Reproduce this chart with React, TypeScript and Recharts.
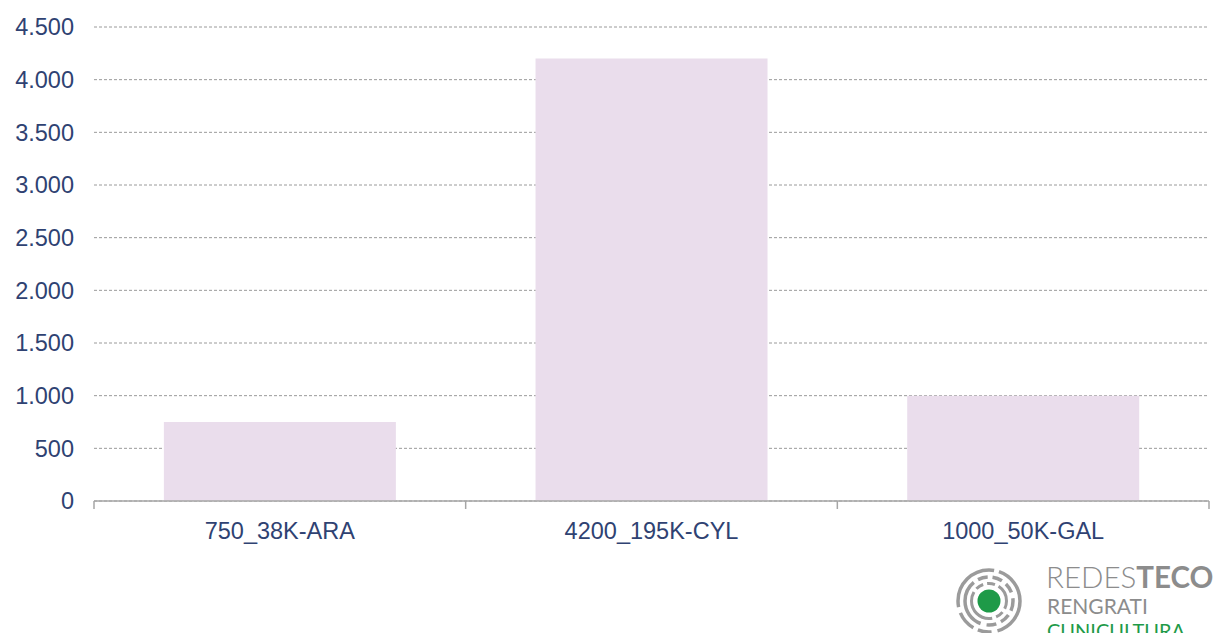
import { BarChart, Bar, XAxis, YAxis, CartesianGrid } from 'recharts';

const CATEGORIES = ['750_38K-ARA', '4200_195K-CYL', '1000_50K-GAL'];
const VALUES = [750, 4200, 1000];
const Y_TICKS = [0, 500, 1000, 1500, 2000, 2500, 3000, 3500, 4000, 4500];

const W = 1216;
const H = 633;
const LEFT = 94;
const RIGHT = 7;
const PLOT_W = W - LEFT - RIGHT;
const INK = '#2F4272';
const AXIS = '#A6A6A6';

const data = CATEGORIES.map((name, i) => ({ name, value: VALUES[i] }));

const fmt = (v: number) => String(v).replace(/\B(?=(\d{3})+(?!\d))/g, '.');

function XTick({ x, y, payload, index }: { x?: number; y?: number; payload?: { value: string }; index?: number }) {
  const bw = PLOT_W / CATEGORIES.length;
  const cx = x ?? 0;
  const cy = y ?? 0;
  const last = index === CATEGORIES.length - 1;
  return (
    <g>
      <line x1={cx - bw / 2} x2={cx - bw / 2} y1={cy} y2={cy + 8} stroke={AXIS} strokeWidth={1.5} />
      {last && <line x1={cx + bw / 2} x2={cx + bw / 2} y1={cy} y2={cy + 8} stroke={AXIS} strokeWidth={1.5} />}
      <text x={cx} y={cy + 21} dy="0.71em" textAnchor="middle" fill={INK} fontSize={23.5}
            fontFamily='"Liberation Sans", Arial, sans-serif'>
        {payload?.value}
      </text>
    </g>
  );
}

function Logo() {
  const cx = 989;
  const cy = 601;
  return (
    <svg width={W} height={H} style={{ position: 'absolute', left: 0, top: 0, pointerEvents: 'none' }}>
      <circle cx={cx} cy={cy} r={31} fill="none" stroke="#9B9B9B" strokeWidth={3.5} strokeDasharray="40 6 14 5 20 6 60 5" />
      <circle cx={cx} cy={cy} r={24} fill="none" stroke="#9B9B9B" strokeWidth={3.5} strokeDasharray="10 5 10 5 10 6 50 5" />
      <circle cx={cx} cy={cy} r={17.5} fill="none" stroke="#9B9B9B" strokeWidth={3} strokeDasharray="8 4 8 4 40 4" />
      <circle cx={cx} cy={cy} r={11.5} fill="#1E9A48" />
      <text x={1046} y={588} fontSize={29.5} fill="#8C8C8C" fontFamily="Lato, sans-serif">
        <tspan fontWeight={300}>REDES</tspan>
        <tspan fontWeight={700}>TECO</tspan>
      </text>
      <text x={1047} y={614} fontSize={21} fill="#8C8C8C" fontFamily="Lato, sans-serif" fontWeight={400}>
        RENGRATI
      </text>
      <text x={1047} y={638} fontSize={20} fill="#1E9A48" fontFamily="Lato, sans-serif" fontWeight={400}>
        CUNICULTURA
      </text>
    </svg>
  );
}

export default function App() {
  return (
    <div style={{ position: 'absolute', left: 0, top: 0, width: W, height: H, background: '#fff', overflow: 'hidden' }}>
      <BarChart width={W} height={H} data={data} margin={{ top: 27, right: RIGHT, left: 0, bottom: 82 }} barCategoryGap="18.8%">
        <CartesianGrid vertical={false} stroke="#9A9A9A" strokeDasharray="3 2" />
        <XAxis dataKey="name" height={50} axisLine={{ stroke: AXIS, strokeWidth: 1.5 }} tickLine={false}
               tickSize={0} tickMargin={0} interval={0} tick={<XTick />} />
        <YAxis width={LEFT} domain={[0, 4500]} ticks={Y_TICKS} axisLine={false} tickLine={false}
               tickSize={0} tickMargin={20} tickFormatter={fmt}
               tick={{ fill: INK, fontSize: 23.5, fontFamily: '"Liberation Sans", Arial, sans-serif' }} />
        <Bar dataKey="value" fill="#EADDEC" isAnimationActive={false} />
      </BarChart>
      <Logo />
    </div>
  );
}
